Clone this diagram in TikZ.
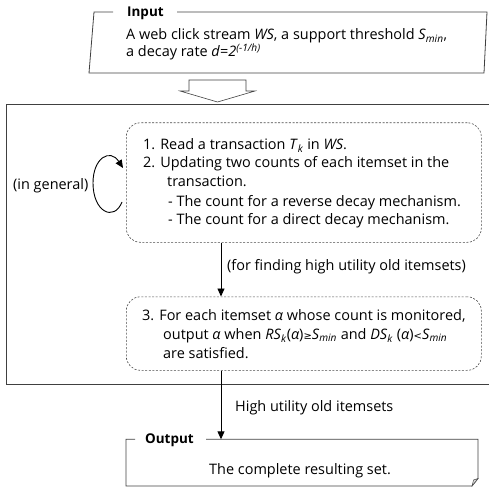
\documentclass[tikz,border=0pt]{standalone}
\usepackage{fontspec}
\setmainfont{Open Sans}
\newfontfamily\symf{DejaVu Sans}
\usetikzlibrary{arrows.meta}
\begin{document}
\begin{tikzpicture}[x=1bp,y=-1bp,
  font=\fontsize{14.5}{17}\selectfont,
  frame/.style={draw=black!75, line width=0.8bp},
  dbox/.style={draw=black!70, dash pattern=on 2bp off 1.6bp, rounded corners=14bp, line width=0.6bp, inner sep=0, anchor=north west},
  arr/.style={-{Triangle[length=8bp,width=7bp]}, line width=0.9bp, black},
  txt/.style={anchor=base west, inner sep=0},
  bold/.style={font=\fontsize{13.5}{16}\selectfont\bfseries},
]
\useasboundingbox (0,0) rectangle (489,487);
% outer frame
\draw[frame] (6,104) rectangle (495,384);
% input shape
\draw[frame] (113,12) -- (94,12) -- (89,73) -- (484,73) -- (487,12) -- (177,12);
\node[txt, bold] (inlab) at (127,16.7) {Input};
\node[txt] (in1) at (126,40) {A web click stream \textit{WS}, a support threshold \textit{S}\textsubscript{\textit{min}},};
\node[txt] (in2) at (126,57) {a decay rate \textit{d}=\textit{2}\textsuperscript{\textit{(-1/h)}}};
% hollow arrow
\draw[frame, fill=white, line width=0.6bp] (189,80) -- (246,80) -- (246,91) -- (255,91) -- (217.5,102) -- (180,91) -- (189,91) -- cycle;
% box 1
\node[dbox, minimum width=355bp, minimum height=119.5bp] (b1) at (126,122.5) {};
\node[txt] (t1) at (143,149.3) {1. Read a transaction \textit{T}\textsubscript{\textit{k}} in \textit{WS}.};
\node[txt] (t2) at (143,168) {2. Updating two counts of each itemset in the};
\node[txt] (t3) at (167,187) {transaction.};
\node[txt] (t4) at (168,206) {- The count for a reverse decay mechanism.};
\node[txt] (t5) at (168,224.5) {- The count for a direct decay mechanism.};
% loop
\coordinate (lpa) at (122,202);
\coordinate (lpb) at (123,168);
\draw[arr] (lpa) .. controls (114,222) and (93,212) .. (93,183) .. controls (93,158) and (110,148) .. (lpb);
\node[txt] (gen) at (13,189.5) {(in general)};
% box 2
\node[dbox, minimum width=355bp, minimum height=73.5bp] (b2) at (126,296.5) {};
\node[txt] (s1) at (142,320.7) {3. For each itemset \textit{α} whose count is monitored,};
\node[txt] (s2) at (163,339.3) {output \textit{α} when \textit{RS}\textsubscript{\textit{k}}(\textit{α}){\symf\fontsize{10}{11}\selectfont ≥}\textit{S}\textsubscript{\textit{min}} and \textit{DS}\textsubscript{\textit{k}} (\textit{α}){\symf\fontsize{10}{11}\selectfont <}\textit{S}\textsubscript{\textit{min}}};
\node[txt] (s3) at (163,358) {are satisfied.};
% output
\draw[frame] (135,439.3) -- (126,439.3) -- (126,486) -- (472,486) -- (478,478.5) -- (478,439.3) -- (206,439.3);
\draw[black!70, fill=black!15, line width=0.5bp] (472,486) -- (473.5,480) -- (478,478.5) -- cycle;
\node[txt, bold] (outlab) at (145,443.5) {Output};
\node[txt] (res) at (209,474.5) {The complete resulting set.};
\coordinate (outtop) at (221,439.3);
% arrows
\draw[arr] (b1.south -| outtop) -- (b2.north -| outtop);
\node[txt] (lab1) at (227,270) {(for finding high utility old itemsets)};
\draw[arr] (b2.south -| outtop) -- (outtop);
\node[txt] (lab2) at (235,411.5) {High utility old itemsets};
\end{tikzpicture}
\end{document}
